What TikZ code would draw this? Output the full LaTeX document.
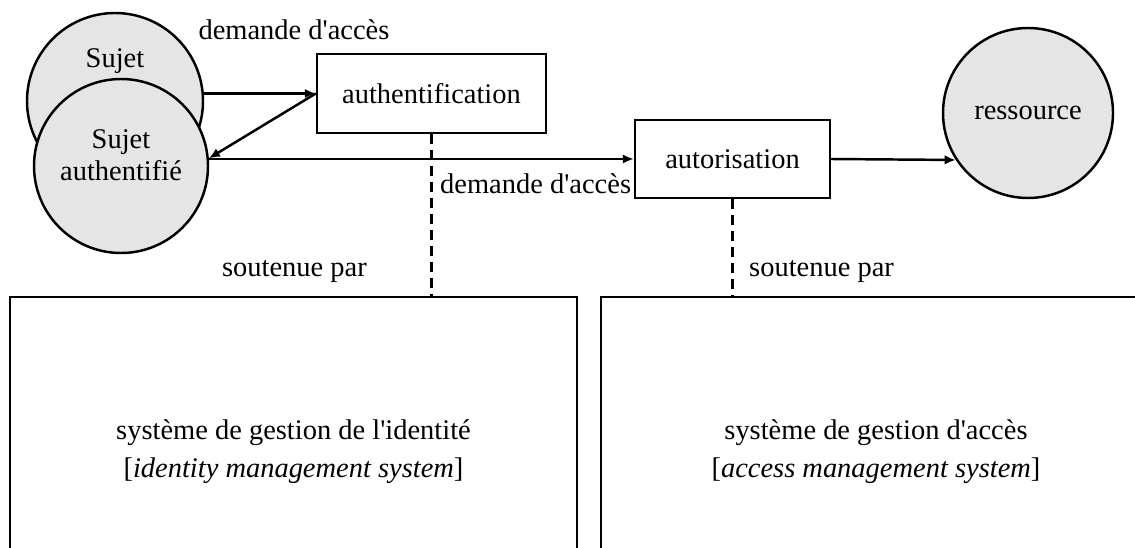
\documentclass[tikz,border=0pt]{standalone}
\usepackage{fontspec}
\setmainfont{Liberation Serif}
\usetikzlibrary{positioning, arrows.meta}
\newcommand{\apo}{\textquotesingle} % straight apostrophe
\tikzset{
	>={Latex[length=2.2mm,width=1.9mm]}, % small filled arrow heads
	every node/.style={font=\fontsize{16.2}{18.5}\selectfont}, % text size for all labels
	cercle/.style={draw, circle, line width=1.4pt, fill=gray!20, minimum size=3.52cm, inner sep=0pt}, % subjects and resource
	etape/.style={draw, rectangle, line width=1.4pt, fill=white}, % authentication / authorisation steps
	systeme/.style={draw, rectangle, line width=1.4pt, minimum height=6.2cm, align=center,
		font=\fontsize{16.2}{21.5}\selectfont}, % the two supporting systems
	lien/.style={->, line width=1.4pt}, % solid connectors
	support/.style={line width=1.4pt, dash pattern=on 0.2cm off 0.12cm}, % "soutenue par" links
}

\begin{document}
\begin{tikzpicture}
	\useasboundingbox (0,0) rectangle (22.7,-10.94);
	\clip (0,0) rectangle (22.7,-10.94);

	% supporting systems, they run off the bottom and the right edge
	\node[systeme, minimum width=11.34cm] (idm) at (5.87,-9.04) {système de gestion de l\apo identité\\{[}\emph{identity management system}{]}};
	\node[systeme, minimum width=11cm] (acm) at (17.52,-9.04) {système de gestion d\apo accès\\{[}\emph{access management system}{]}};

	% subjects
	\node[cercle] (sujet) at (2.30,-2.02) {};
	\node[cercle, minimum size=3.48cm] (sujetauth) at (2.42,-3.32) {};
	\node (sujettxt) at ([yshift=0.8cm]sujet.center) {Sujet};
	\node[align=center] (sujetauthtxt) at ([yshift=0.22cm]sujetauth.center) {Sujet\\authentifié};

	% steps and resource
	\node[etape, minimum width=4.58cm, minimum height=1.58cm] (authn) at (8.63,-1.87) {authentification};
	\node[etape, minimum width=3.9cm, minimum height=1.56cm] (autor) at (14.65,-3.18) {autorisation};
	\node[cercle, minimum size=3.4cm] (ress) at (20.56,-2.26) {ressource};

	% labels
	\node (dem1) at (5.88,-0.6) {demande d\apo accès};
	\node[anchor=west] (dem2) at (8.68,-3.68) {demande d\apo accès};
	\node[anchor=east] (sout1) at (7.46,-5.44) {soutenue par};
	\node[anchor=west] (sout2) at (14.86,-5.44) {soutenue par};

	\draw[lien] (sujet.east |- authn.west) -- (authn.west);
	\draw[lien] (authn.west) -- (sujetauth.5);
	\draw[lien] (sujetauth.east |- autor.west) -- (autor.west);
	\draw[lien] (autor.east) -- (ress.213);
	\draw[support] (authn.south) -- (authn.south |- idm.north);
	\draw[support] (autor.south) -- (autor.south |- acm.north);
\end{tikzpicture}
\end{document}
